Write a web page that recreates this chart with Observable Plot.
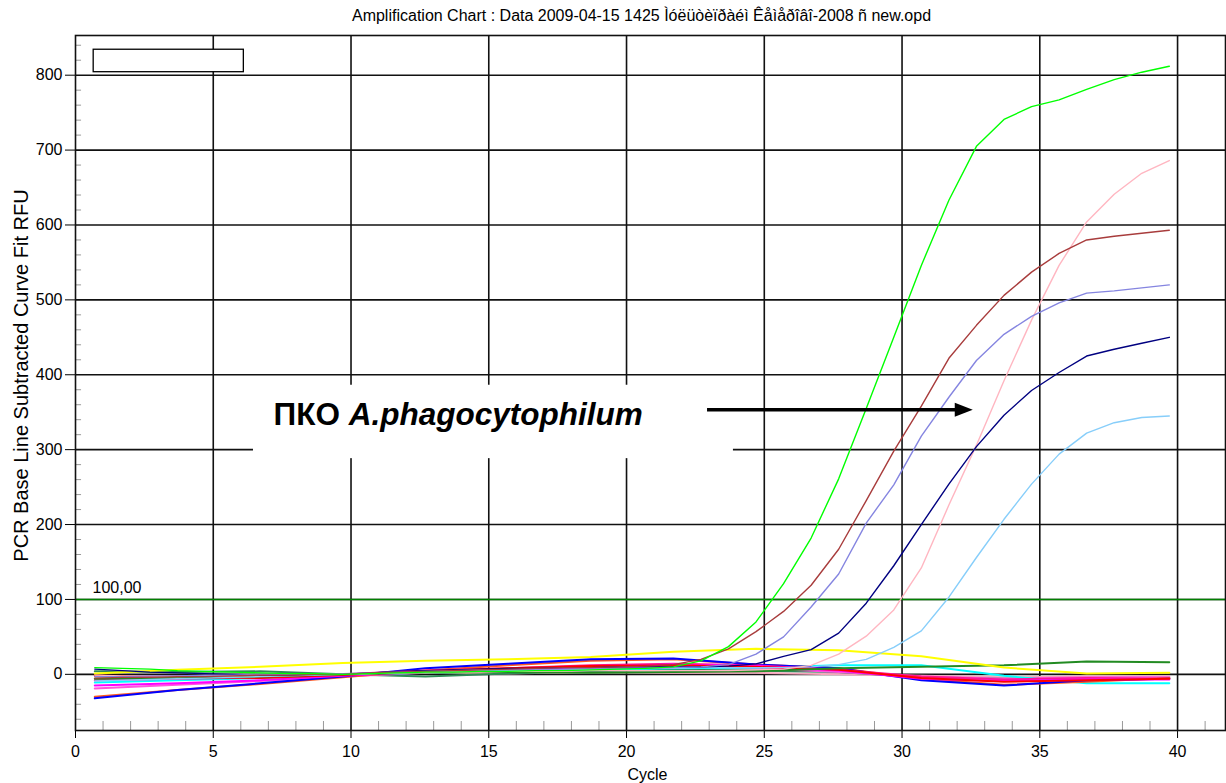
<!DOCTYPE html>
<html>
<head>
<meta charset="utf-8">
<script src="https://cdn.jsdelivr.net/npm/d3@7"></script>
<script src="https://cdn.jsdelivr.net/npm/@observablehq/plot@0.6"></script>
<style>
html, body { margin: 0; padding: 0; background: #fff; }
#chart { width: 1226px; height: 783px; }
</style>
</head>
<body>
<div id="chart"></div>
<script>
// ---- texts ----
const TITLE = "Amplification Chart : Data 2009-04-15 1425 Ìóëüòèïðàéì Êåìåðîâî-2008 ñ new.opd";
const Y_LABEL = "PCR Base Line Subtracted Curve Fit RFU";
const X_LABEL = "Cycle";
const THRESHOLD = 100;
const THRESHOLD_LABEL = "100,00";
const ANNOTATION = "ПКО A.phagocytophilum";
const ANNOT_PLAIN = "ПКО ";
const ANNOT_ITALIC = "A.phagocytophilum";

// ---- tick labels ----
const xTicks = [0, 5, 10, 15, 20, 25, 30, 35, 40];
const yTicks = [0, 100, 200, 300, 400, 500, 600, 700, 800];
const xMinor = [1,2,3,4,6,7,8,9,11,12,13,14,16,17,18,19,21,22,23,24,26,27,28,29,31,32,33,34,36,37,38,39,41];
const yMinor = [-60,-40,-20,20,40,60,80,120,140,160,180,220,240,260,280,320,340,360,380,420,440,460,480,520,540,560,580,620,640,660,680,720,740,760,780,820,840];

// ---- amplifying curves (cycles 1..40) ----
const cycles = [1,2,3,4,5,6,7,8,9,10,11,12,13,14,15,16,17,18,19,20,21,22,23,24,25,26,27,28,29,30,31,32,33,34,35,36,37,38,39,40];
const greenRFU    = [9,8,7,5,4,3,2,1,1,0, 1,2,3,3,4,4,5,5,6,7, 8,10,18,37,70,121,182,261,355,450, 546,633,705,741,758,767,781,794,804,812];
const brownRFU    = [-5,-4,-4,-3,-3,-2,-1,-1,0,0, 2,3,4,5,6,7,8,9,9,10, 11,13,20,34,57,84,119,167,232,298, 358,422,466,506,537,562,580,585,589,593];
const purpleRFU   = [-3,-3,-2,-2,-1,-1,0,0,1,1, 2,3,4,5,6,6,7,7,8,8, 8,9,10,13,27,50,90,134,202,253, 318,370,419,454,478,496,509,512,516,520];
const navyRFU     = [7,5,3,2,1,0,-1,-1,0,0, 2,4,5,6,7,8,8,9,9,10, 10,10,10,11,14,24,33,55,95,145, 200,254,304,346,379,403,425,434,442,450];
const pinkRFU     = [-1,-2,-2,-3,-2,-2,-1,-1,0,0, 1,2,2,3,3,4,4,4,5,5, 5,5,5,5,6,7,12,27,51,86, 142,226,306,392,473,546,604,641,669,686];
const lightBlueRFU= [-9,-8,-7,-6,-5,-4,-3,-2,-1,0, 1,2,3,4,5,5,6,6,7,7, 8,8,9,9,9,9,10,13,20,36, 58,103,156,207,254,294,322,336,343,345];

// ---- flat (negative) curves, read at these cycles ----
const baseCycles = [1,4,7,10,13,16,19,22,25,28,31,34,37,40];
const yellowRFU     = [1,6,10,15,18,20,23,30,34,32,24,9,1,2];
const forestRFU     = [-6,-5,-3,0,2,3,2,3,4,8,10,12,17,16];
const seaGreenRFU   = [4,3,4,0,-3,1,4,6,5,3,-4,-6,-6,-5];
const cyanRFU       = [-11,-8,-5,-1,2,4,6,8,9,12,12,-2,-12,-12];
const redRFU        = [-2,-3,-5,-1,4,8,11,12,10,6,-5,-10,-8,-6];
const magentaRFU    = [-15,-12,-8,-2,3,6,10,13,11,5,-6,-9,-7,-7];
const orchidRFU     = [-19,-14,-9,-3,2,5,8,10,8,3,-3,-6,-4,-4];
const blueRFU       = [-32,-21,-12,-3,8,14,20,21,13,8,-8,-15,-8,-6];
const orangeRFU     = [-30,-21,-13,-4,5,12,18,20,13,8,-6,-14,-10,-5];
const deepPinkRFU   = [-8,-6,-4,0,5,8,12,14,12,6,-3,-7,-5,-6];
const rosePinkRFU   = [-2,-4,-1,0,2,1,3,2,2,0,-2,-4,-3,-3];

const CYCLE_SHIFT = 0.3;

const flatSeries = [
  {name: "rose", color: "#f7a6bd", values: rosePinkRFU},
  {name: "seagreen", color: "#2e8b57", values: seaGreenRFU},
  {name: "orchid", color: "#ff55dd", values: orchidRFU},
  {name: "cyan", color: "#00ffff", values: cyanRFU},
  {name: "orange", color: "#ff5a1e", values: orangeRFU},
  {name: "blue", color: "#0000ff", values: blueRFU},
  {name: "deeppink", color: "#ff1493", values: deepPinkRFU},
  {name: "magenta", color: "#ff00ff", values: magentaRFU},
  {name: "red", color: "#ff0000", values: redRFU},
  {name: "forest", color: "#228b22", values: forestRFU},
  {name: "yellow", color: "#ffff00", values: yellowRFU}
];
const ampSeries = [
  {name: "lightblue", color: "#87cefa", values: lightBlueRFU},
  {name: "pink", color: "#ffb6c1", values: pinkRFU},
  {name: "navy", color: "#000080", values: navyRFU},
  {name: "purple", color: "#8585e0", values: purpleRFU},
  {name: "brown", color: "#a83c3c", values: brownRFU},
  {name: "green", color: "#00ff00", values: greenRFU}
];

const flatRows = flatSeries.flatMap(s => s.values.map((v, i) => ({series: s.name, color: s.color, cycle: baseCycles[i], rfu: v})));
const ampRows = ampSeries.flatMap(s => s.values.map((v, i) => ({series: s.name, color: s.color, cycle: cycles[i], rfu: v})));

// annotation geometry (data coordinates)
const legendBox = [{x1: 0.66, x2: 6.11, y1: 804, y2: 834}];
const annotBox = [{x1: 6.46, x2: 23.88, y1: 288, y2: 386}];
const annotText = [{x: 7.19, y: 332.5, label: ANNOTATION}];
const arrowShaft = [{x1: 22.94, x2: 31.95, y: 353.4}];
const arrowHead = [{x: 31.95, y: 353.4}];
const headSymbol = {draw(ctx) { ctx.moveTo(-1, -7); ctx.lineTo(17, 0); ctx.lineTo(-1, 7); ctx.closePath(); }};

const GRID = "#111";

const plot = Plot.plot({
  width: 1226,
  height: 783,
  marginLeft: 75,
  marginRight: 1,
  marginTop: 35,
  marginBottom: 53,
  style: {fontFamily: "'Liberation Sans', Arial, sans-serif", fontSize: "16px", background: "#fff", color: "#000", overflow: "visible"},
  x: {domain: [0, 41.74], ticks: xTicks, tickSize: 8, tickPadding: 7, label: null, tickFormat: d => String(d)},
  y: {domain: [-75, 853], ticks: yTicks, tickSize: 10, tickPadding: 3, label: null, tickFormat: d => String(d)},
  color: {type: "identity"},
  marks: [
    Plot.ruleX(xTicks.slice(1), {stroke: GRID, strokeWidth: 1.6}),
    Plot.ruleY(yTicks, {stroke: GRID, strokeWidth: 1.6}),
    Plot.ruleX(xMinor, {y1: -75, y2: -63, stroke: "#999", strokeWidth: 1}),
    Plot.ruleY(yMinor, {x1: 0, x2: 0.22, stroke: "#999", strokeWidth: 1}),
    Plot.rect(annotBox, {x1: "x1", x2: "x2", y1: "y1", y2: "y2", fill: "#fff"}),
    Plot.rect(legendBox, {x1: "x1", x2: "x2", y1: "y1", y2: "y2", fill: "#fff", stroke: "#000", strokeWidth: 1.3}),
    Plot.ruleY([THRESHOLD], {stroke: "#008000", strokeWidth: 1.5}),
    Plot.text([THRESHOLD_LABEL], {x: 0, y: THRESHOLD, text: d => d, dx: 17, dy: -6, textAnchor: "start", lineAnchor: "bottom", fontSize: 16}),
    Plot.line(flatRows, {x: d => d.cycle - CYCLE_SHIFT, y: "rfu", z: "series", stroke: "color", strokeWidth: 2}),
    Plot.line(ampRows, {x: d => d.cycle - CYCLE_SHIFT, y: "rfu", z: "series", stroke: "color", strokeWidth: 1.4}),
    Plot.text(annotText, {x: "x", y: "y", text: "label", textAnchor: "start", lineAnchor: "bottom", fontSize: 31.5, fontWeight: "bold"}),
    Plot.ruleY(arrowShaft, {x1: "x1", x2: "x2", y: "y", stroke: "#000", strokeWidth: 3.5}),
    Plot.dot(arrowHead, {x: "x", y: "y", symbol: headSymbol, r: 5, fill: "#000", stroke: null}),
    Plot.frame({stroke: GRID, strokeWidth: 1.6}),
    Plot.text([TITLE], {frameAnchor: "top", text: d => d, dx: -9, dy: -15, textAnchor: "middle", lineAnchor: "bottom", fontSize: 16}),
    Plot.text([X_LABEL], {frameAnchor: "bottom", text: d => d, dx: -3, dy: 49, textAnchor: "middle", lineAnchor: "bottom", fontSize: 16}),
    Plot.text([Y_LABEL], {frameAnchor: "left", text: d => d, rotate: -90, dx: -54, dy: -7.5, textAnchor: "middle", lineAnchor: "middle", fontSize: 20})
  ]
});

document.getElementById("chart").appendChild(plot);

// split annotation into upright + italic parts
d3.select(plot).selectAll("text").filter(function() { return this.textContent === ANNOTATION; }).each(function() {
  const t = d3.select(this);
  t.text(null);
  t.append("tspan").text(ANNOT_PLAIN);
  t.append("tspan").attr("font-style", "italic").text(ANNOT_ITALIC);
});
</script>
</body>
</html>
